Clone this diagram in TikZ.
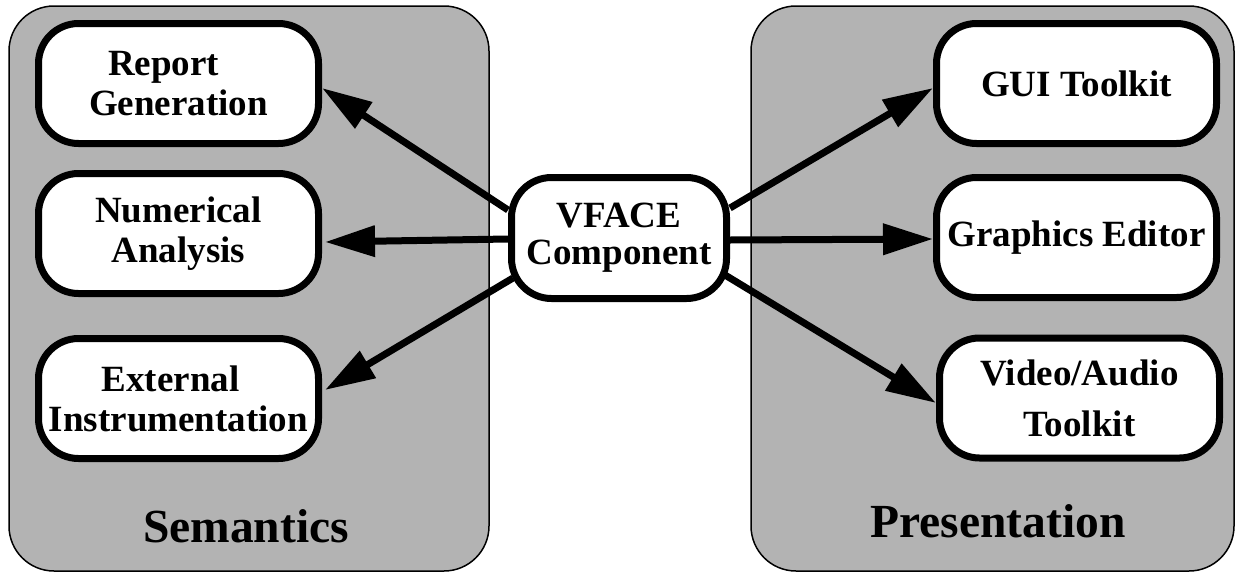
\documentclass[tikz,border=0pt]{standalone}
\usepackage{fontspec}
\setmainfont{Liberation Serif}
\usetikzlibrary{arrows.meta,calc}
\definecolor{panelgray}{RGB}{179,179,179}
\begin{document}
\begin{tikzpicture}[x=1pt,y=-1pt,
  panel/.style={draw=black, line width=1.5pt, fill=panelgray, rounded corners=45pt, inner sep=0pt},
  block/.style={draw=black, line width=7pt, fill=white, rounded corners=40pt,
    minimum width=280pt, minimum height=120pt, align=center, inner sep=0pt,
    font=\fontsize{37}{40}\selectfont\bfseries},
  paneltitle/.style={anchor=base, font=\fontsize{47.5}{50}\selectfont\bfseries},
  arr/.style={line width=7pt, -{Triangle[length=50pt,width=30pt]}}]
  \useasboundingbox (0,0) rectangle (1236,573);

  % the two groups
  \node[panel, minimum width=480pt, minimum height=565pt] (sem) at (249,288.5) {};
  \node[panel, minimum width=483pt, minimum height=565pt] (pres) at (992.5,288.5) {};
  \node[paneltitle] (semt) at (246,542) {Semantics};
  \node[paneltitle] (prest) at (998,537) {Presentation};

  % semantic side
  \node[block] (rg) at (178.5,83.5) {Report\rule{30pt}{0pt}\\Generation};
  \node[block] (na) at (178.5,233.5) {Numerical\\Analysis};
  \node[block] (ei) at (178.5,398.5) {External\rule{16pt}{0pt}\\Instrumentation};

  % presentation side
  \node[block] (gt) at (1076.5,83.5) {GUI Toolkit};
  \node[block] (ge) at (1076.5,237.5) {Graphics Editor};
  \node[block] (va) at (1079.5,398) {Video/Audio\\[11pt]Toolkit};

  % central component
  \node[block, minimum width=215pt, minimum height=121pt,
        font=\fontsize{37}{37}\selectfont\bfseries] (vf) at (619,238) {VFACE\\Component};

  % connectors
  \draw[arr] ($(vf.west)+(0,-28)$) -- ($(rg.east)+(0,4.5)$);
  \draw[arr] ($(vf.west)+(0,1)$) -- ($(na.east)+(3,8.5)$);
  \draw[arr] ($(vf.west)+(5,40)$) -- ($(ei.east)+(3,-8.5)$);
  \draw[arr] ($(vf.east)+(0,-30)$) -- ($(gt.west)+(0,4.5)$);
  \draw[arr] ($(vf.east)+(0,2)$) -- ($(ge.west)+(0,1.5)$);
  \draw[arr] ($(vf.east)+(-5,37)$) -- ($(va.west)+(0,5)$);
\end{tikzpicture}
\end{document}
